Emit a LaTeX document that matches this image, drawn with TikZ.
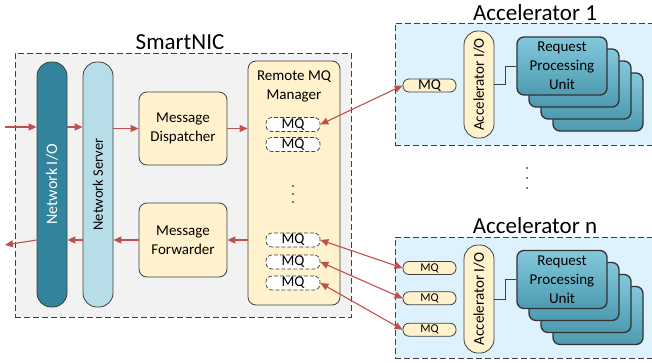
\documentclass[tikz,border=0pt]{standalone}
\usepackage{fontspec}
\setmainfont{Carlito}
\usetikzlibrary{arrows.meta,positioning}

\definecolor{nicgray}{HTML}{F2F2F2}
\definecolor{accblue}{HTML}{DDF2FC}
\definecolor{niodark}{HTML}{31849B}
\definecolor{nsvlight}{HTML}{B7DEE8}
\definecolor{msgyellow}{HTML}{FFF2CC}
\definecolor{rpublue}{HTML}{5AB6D0}
\definecolor{flowred}{HTML}{C0504D}
\definecolor{boxline}{HTML}{404040}

\begin{document}
\begin{tikzpicture}[x=1pt,y=-1pt,
    every node/.style={inner sep=0pt, font=\fontsize{15}{19}\selectfont},
    hostbox/.style={draw=boxline, line width=0.8pt, dash pattern=on 6pt off 3pt},
    title/.style={font=\fontsize{23}{26}\selectfont},
    pill/.style={draw=boxline, line width=0.8pt, rounded corners=14pt, minimum width=30pt},
    msgbox/.style={draw=boxline, line width=0.8pt, fill=msgyellow, rounded corners=8pt, align=center},
    mqslot/.style={draw=boxline, line width=0.7pt, dash pattern=on 4pt off 2pt, fill=white, rounded corners=6pt, minimum width=54pt, minimum height=14pt},
    mqport/.style={draw=boxline, line width=0.8pt, fill=msgyellow, rounded corners=6pt, minimum width=53pt, minimum height=13pt},
    rpubox/.style={draw=black!80, line width=1.3pt, top color=rpublue!75!white, bottom color=rpublue!85!black, rounded corners=7pt, minimum width=90pt, minimum height=58pt, align=center},
    flow/.style={draw=flowred, line width=1.1pt, -{Triangle[length=8pt,width=7pt]}},
    sync/.style={flow, {Triangle[length=8pt,width=7pt]}-{Triangle[length=8pt,width=7pt]}},
    link/.style={draw=boxline, line width=0.8pt}]

    \useasboundingbox (0,0) rectangle (652,362);

    \node[hostbox, fill=nicgray, minimum width=336pt, minimum height=264pt] (nic) at (183,185) {};
    \node[title] (nict) at (180,42) {SmartNIC};

    \node[pill, fill=niodark, minimum height=245pt] (nio) at (52,184.5) {};
    \node[rotate=90, text=white, font=\fontsize{16}{19}\selectfont] (niot) at (nio) {Network I/O};
    \node[pill, fill=nsvlight, minimum height=245pt] (nsv) at (98,184.5) {};
    \node[rotate=90, font=\fontsize{14.5}{17}\selectfont] (nsvt) at (nsv) {Network Server};

    \node[msgbox, minimum width=88pt, minimum height=73pt] (md) at (183,128.5) {Message\\Dispatcher};
    \node[msgbox, minimum width=88pt, minimum height=74pt] (mf) at (183,240) {Message\\Forwarder};

    \node[msgbox, minimum width=92pt, minimum height=244pt] (rmq) at (294,183) {};
    \node[below=10pt of rmq.north, align=center] (rmqt) {Remote MQ\\Manager};
    \node[mqslot] (rq1) at (293,124.5) {MQ};
    \node[mqslot] (rq2) at (293,144.5) {MQ};
    \node[mqslot] (rq3) at (293,240) {MQ};
    \node[mqslot] (rq4) at (293,262) {MQ};
    \node[mqslot] (rq5) at (293,283) {MQ};
    \foreach \y in {186,194,202}
        \fill (293,\y) circle (0.9pt);

    \coordinate (in) at (5,127);
    \coordinate (out) at (5,245);
    \draw[flow] (in) -- (nio.west |- in);
    \draw[flow] (nio.east |- in) -- (nsv.west |- in);
    \draw[flow] (nsv.east |- md.west) -- (md.west);
    \draw[flow] (md.east) -- (rmq.west |- md.east);
    \draw[flow] (rmq.west |- mf.east) -- (mf.east);
    \draw[flow] (mf.west) -- (nsv.east |- mf.west);
    \draw[flow] (nsv.west |- mf.west) -- (nio.east |- mf.west);
    \draw[flow] (nio.west |- mf.west) -- (out);

    % accelerator 1
    \node[hostbox, fill=accblue, minimum width=262pt, minimum height=122pt] (acc1) at (526,84) {};
    \node[title] (acc1t) at (535,13) {Accelerator 1};
    \node[mqport] (am1) at (429.5,85.5) {MQ};
    \node[pill, fill=msgyellow, minimum height=107pt] (aio1) at (479,84.5) {};
    \node[rotate=90] (aio1t) at (aio1) {Accelerator I/O};
    \foreach \k in {3,2,1}
        \node[rpubox] (rpu1\k) at ({562+12*\k},{66+12*\k}) {};
    \node[rpubox] (rpu1) at (562,66) {Request\\Processing\\Unit};
    \draw[link] (aio1.east) -- ++(11,0) |- (rpu1.west);

    \foreach \y in {168,178,188}
        \fill (527,\y) circle (0.9pt);

    % accelerator n
    \node[hostbox, fill=accblue, minimum width=262pt, minimum height=121pt] (accn) at (526,297.5) {};
    \node[title] (accnt) at (535,226) {Accelerator n};
    \node[mqport, font=\fontsize{12}{14}\selectfont] (amn1) at (429.5,268) {MQ};
    \node[mqport, font=\fontsize{12}{14}\selectfont] (amn2) at (429.5,298.3) {MQ};
    \node[mqport, font=\fontsize{12}{14}\selectfont] (amn3) at (429.5,329.7) {MQ};
    \node[pill, fill=msgyellow, minimum height=108pt] (aion) at (479,299) {};
    \node[rotate=90] (aiont) at (aion) {Accelerator I/O};
    \foreach \k in {3,2,1}
        \node[rpubox] (rpun\k) at ({562+12*\k},{279.5+12*\k}) {};
    \node[rpubox] (rpun) at (562,279.5) {Request\\Processing\\Unit};
    \draw[link] (aion.east) -- ++(11,0) |- (rpun.west);

    \draw[sync] (am1.west) -- (rq1.east);
    \draw[sync] (rq3.east) -- (amn1.west);
    \draw[sync] (rq4.east) -- (amn2.west);
    \draw[sync] (rq5.east) -- (amn3.west);

\end{tikzpicture}
\end{document}
